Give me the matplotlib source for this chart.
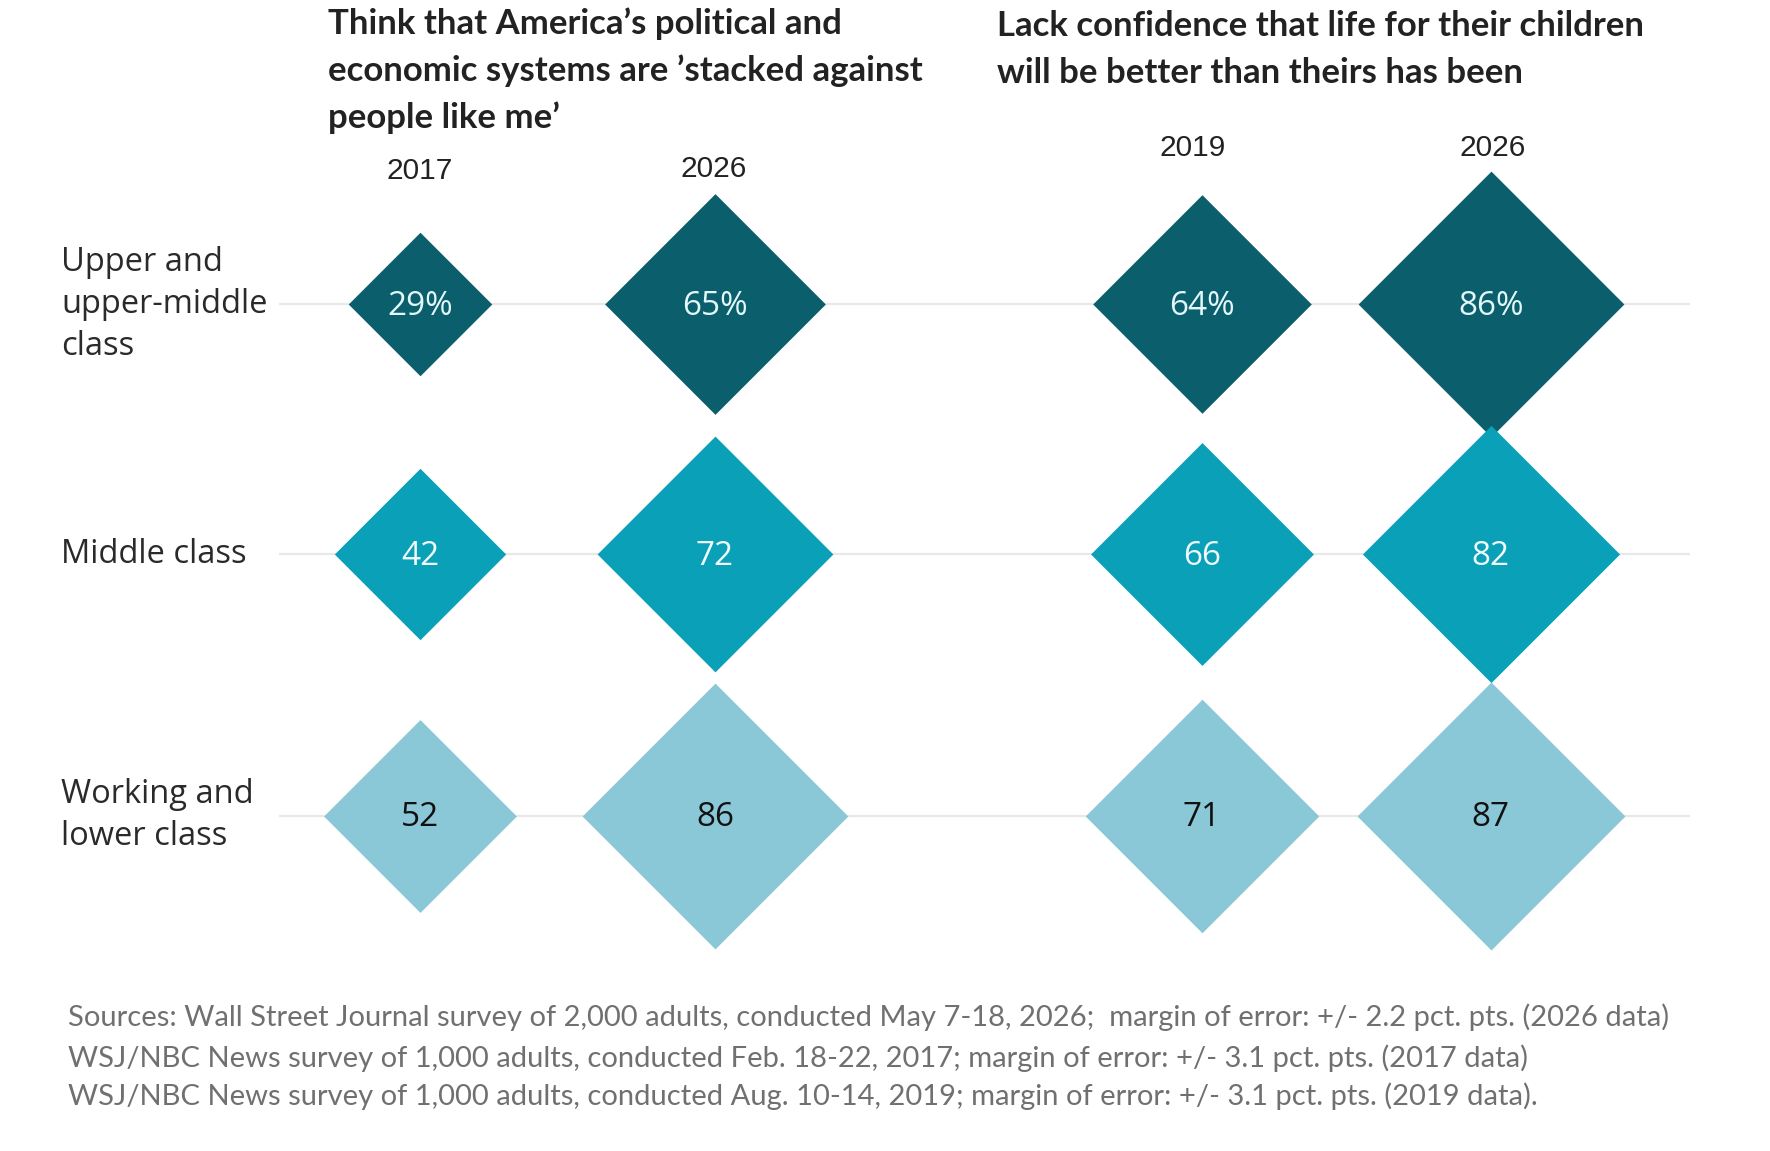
import matplotlib
matplotlib.use("Agg")
import matplotlib.pyplot as plt
from matplotlib.transforms import blended_transform_factory, offset_copy

# data
classes = ["Upper and\nupper-middle\nclass", "Middle class", "Working and\nlower class"]
years = ["2017", "2026", "2019", "2026"]
stacked = [[29, 65], [42, 72], [52, 86]]        # 2017, 2026
no_confidence = [[64, 86], [66, 82], [71, 87]]  # 2019, 2026

title_left = ["Think that America\u2019s political and",
              "economic systems are \u2019stacked against",
              "people like me\u2019"]
title_right = ["Lack confidence that life for their children",
               "will be better than theirs has been"]
notes = ["Sources: Wall Street Journal survey of 2,000 adults, conducted May 7-18, 2026;  margin of error: +/- 2.2 pct. pts. (2026 data)",
         "WSJ/NBC News survey of 1,000 adults, conducted Feb. 18-22, 2017; margin of error: +/- 3.1 pct. pts. (2017 data)",
         "WSJ/NBC News survey of 1,000 adults, conducted Aug. 10-14, 2019; margin of error: +/- 3.1 pct. pts. (2019 data)."]

row_colors = ["#0b5f6c", "#0aa0b8", "#8ac7d7"]
text_colors = ["#e3f8fa", "#f0fbfc", "#111111"]

W, H = 1770, 1151
fig = plt.figure(figsize=(W / 100, H / 100), dpi=100)
fig.patch.set_facecolor("white")

# axes placed so the grid lines run from x=279 to 1690 px
ax = fig.add_axes([279 / W, 1 - 970 / H, (1690 - 279) / W, (970 - 150) / H])
ax.set_xlim(-0.478, 4.305)
ax.set_ylim(2.6016, -0.6016)
ax.axis("off")

col_x = [0, 1, 2.65, 3.63]
row_y = [0, 0.977, 2.0]


def diamond_size(v):
    # marker area grows with the share, with a small base size
    return (1.092 * v + 41.4) ** 2


# value labels sit a couple of pixels under the row line
lab_tr = offset_copy(ax.transData, fig=fig, x=0, y=-2, units="dots")

for i, cls in enumerate(classes):
    ax.axhline(row_y[i], color="#e8e8e8", lw=1.6, zorder=0)
    vals = stacked[i] + no_confidence[i]
    for j, v in enumerate(vals):
        ax.scatter(col_x[j], row_y[i], s=diamond_size(v), marker="D", color=row_colors[i],
                   linewidths=0, zorder=2, clip_on=False)
        lab = f"{v}%" if i == 0 else str(v)
        ax.text(col_x[j], row_y[i], lab, transform=lab_tr, ha="center", va="center",
                fontsize=24, family=["Open Sans", "DejaVu Sans"], color=text_colors[i], zorder=3)

# row labels
tr = blended_transform_factory(fig.transFigure, ax.transData)
for i, cls in enumerate(classes):
    ax.text(61 / W, row_y[i], cls, transform=tr, ha="left", va="center", fontsize=23.5,
            family=["Open Sans", "DejaVu Sans"], color="#2a2a2a", linespacing=1.36)

# year labels
year_y = [171, 169, 148, 148]
year_dx = [0, -1, -9, 2]
tr2 = blended_transform_factory(ax.transData, fig.transFigure)
for j, yr in enumerate(years):
    t = offset_copy(tr2, fig=fig, x=year_dx[j], y=0, units="dots")
    ax.text(col_x[j], 1 - year_y[j] / H, yr, transform=t, ha="center", va="center",
            fontsize=21.5, family=["Liberation Sans", "DejaVu Sans"], color="#222222")

# titles, one line at a time
for k, line in enumerate(title_left):
    fig.text(328 / W, 1 - (34 + 47 * k) / H, line, ha="left", va="baseline", fontsize=25,
             fontweight="bold", family=["Lato", "DejaVu Sans"], color="#222222")
for k, line in enumerate(title_right):
    fig.text(997 / W, 1 - (36 + 47 * k) / H, line, ha="left", va="baseline", fontsize=25,
             fontweight="bold", family=["Lato", "DejaVu Sans"], color="#222222")

# source notes
for k, line in enumerate(notes):
    fig.text(68 / W, 1 - [1017, 1058, 1096][k] / H, line, ha="left", va="center", fontsize=21,
             family=["Lato", "DejaVu Sans"], color="#707070")

fig.savefig("out.png", dpi=100)
